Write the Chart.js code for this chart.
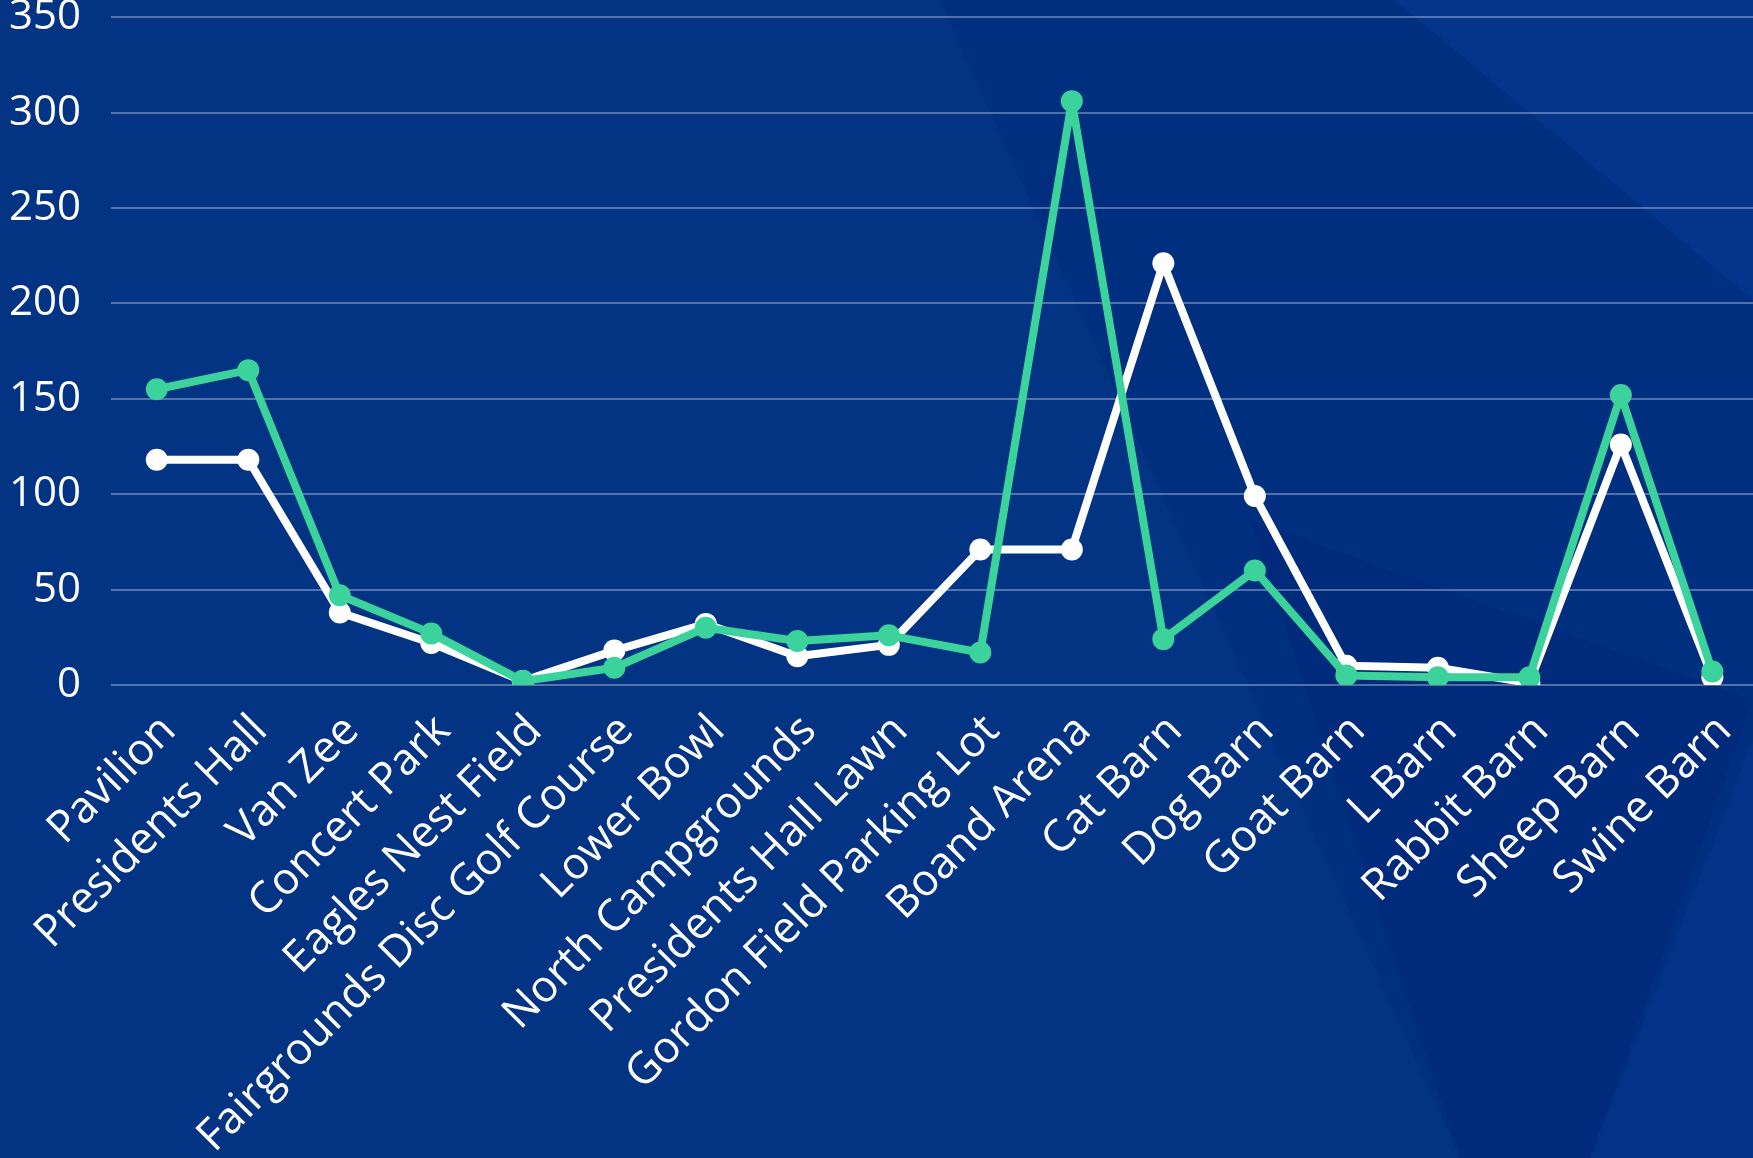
<!DOCTYPE html>
<html>
<head>
<meta charset="utf-8">
<script src="https://cdn.jsdelivr.net/npm/chart.js@4"></script>
<style>
  html, body { margin: 0; padding: 0; }
  body {
    width: 1753px;
    height: 1158px;
    overflow: hidden;
    position: relative;
    background: #033484;
  }
  /* faint diagonal panels in the background */
  .shade { position: absolute; inset: 0; }
  .s1 { background: rgba(0, 40, 120, 0.35); clip-path: polygon(940px 0, 1753px 0, 1753px 1158px, 1460px 1158px); }
  .s2 { background: rgba(10, 70, 160, 0.35); clip-path: polygon(1395px 0, 1753px 0, 1753px 300px); }
  .s3 { background: rgba(10, 60, 150, 0.30); clip-path: polygon(1753px 740px, 1753px 1158px, 1590px 1158px); }
  .s4 { background: rgba(0, 30, 110, 0.25); clip-path: polygon(1250px 520px, 1753px 700px, 1590px 1158px, 1460px 1158px); }
  #wrap { position: absolute; left: -21px; top: -38px; width: 1791px; height: 1221px; }
</style>
</head>
<body>
<div class="shade s1"></div>
<div class="shade s2"></div>
<div class="shade s4"></div>
<div class="shade s3"></div>
<div id="wrap"><canvas id="chart"></canvas></div>
<script>
// categories along the x axis
const locations = [
    'Pavilion', 'Presidents Hall', 'Van Zee', 'Concert Park', 'Eagles Nest Field',
    'Fairgrounds Disc Golf Course', 'Lower Bowl', 'North Campgrounds', 'Presidents Hall Lawn',
    'Gordon Field Parking Lot', 'Boand Arena', 'Cat Barn', 'Dog Barn', 'Goat Barn',
    'L Barn', 'Rabbit Barn', 'Sheep Barn', 'Swine Barn'
];

// white line
const whiteValues = [118, 118, 38, 22, 2, 18, 32, 15, 21, 71, 71, 221, 99, 10, 9, 1, 126, 4];

// green line
const greenValues = [155, 165, 47, 27, 2, 9, 30, 23, 26, 17, 306, 24, 60, 5, 4, 4, 152, 7];

// y axis
const yMin = 0;
const yMax = 350;
const yStep = 50;

const GREEN = '#3bd29c';
const WHITE = '#ffffff';
const FONT = "'Open Sans', sans-serif";

document.addEventListener('DOMContentLoaded', () => {
    const ctx = document.getElementById('chart').getContext('2d');
    new Chart(ctx, {
        type: 'line',
        data: {
            labels: locations,
            datasets: [
                {
                    label: 'Green',
                    data: greenValues,
                    borderColor: GREEN,
                    backgroundColor: GREEN,
                    pointBackgroundColor: GREEN,
                    borderWidth: 8,
                    borderJoinStyle: 'round',
                    pointRadius: 11,
                    pointBorderWidth: 0,
                    tension: 0
                },
                {
                    label: 'White',
                    data: whiteValues,
                    borderColor: WHITE,
                    backgroundColor: WHITE,
                    pointBackgroundColor: WHITE,
                    borderWidth: 8,
                    borderJoinStyle: 'round',
                    pointRadius: 11,
                    pointBorderWidth: 0,
                    tension: 0
                }
            ]
        },
        options: {
            responsive: true,
            maintainAspectRatio: false,
            animation: false,
            devicePixelRatio: 1,
            plugins: {
                legend: { display: false },
                tooltip: { enabled: false }
            },
            scales: {
                x: {
                    offset: true,
                    grid: { display: false, drawTicks: false },
                    border: { display: false },
                    ticks: {
                        color: WHITE,
                        font: { family: FONT, size: 44 },
                        minRotation: 45,
                        maxRotation: 45,
                        autoSkip: false,
                        labelOffset: 12,
                        padding: 20
                    }
                },
                y: {
                    min: yMin,
                    max: yMax,
                    grid: {
                        color: 'rgba(255,255,255,0.32)',
                        lineWidth: 2,
                        drawTicks: false
                    },
                    border: { display: false },
                    ticks: {
                        stepSize: yStep,
                        color: WHITE,
                        font: { family: FONT, size: 42 },
                        padding: 30
                    }
                }
            }
        }
    });
});
</script>
</body>
</html>
